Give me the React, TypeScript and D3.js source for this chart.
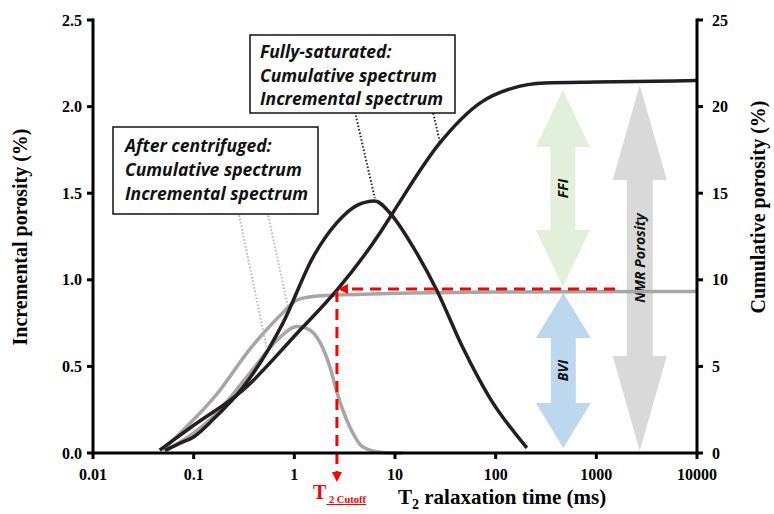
import React from "react";
import * as d3 from "d3";

// T2 spectra (T2 in ms). Incremental values on the left axis (%), cumulative on the right axis (%).
const fsIncT2 = [0.052, 0.075, 0.098, 0.16, 0.31, 0.77, 1.53, 2.65, 4.19, 6.3, 8.9, 15.1, 26, 47, 87, 204];
const fsIncVal = [0.015, 0.06, 0.09, 0.2, 0.38, 0.75, 1.13, 1.33, 1.43, 1.455, 1.386, 1.19, 0.94, 0.61, 0.32, 0.03];

const fsCumT2 = [0.046, 0.1, 0.31, 1.06, 2.71, 7.08, 9.5, 27.9, 69.7, 148, 308, 1000, 10000];
const fsCumVal = [0.17, 1.6, 3.64, 6.9, 9.47, 12.7, 13.86, 17.9, 20.2, 21.07, 21.36, 21.42, 21.5];

const acIncT2 = [0.054, 0.17, 0.36, 0.67, 1.06, 1.25, 1.67, 2.25, 2.65, 3.56, 4.8, 7.6, 12];
const acIncVal = [0.017, 0.23, 0.46, 0.65, 0.73, 0.725, 0.67, 0.5, 0.35, 0.15, 0.035, 0.003, 0];

const acCumT2 = [0.0495, 0.078, 0.17, 0.362, 0.77, 1.06, 1.6, 2.65, 14.1, 100, 10000];
const acCumVal = [0.17, 1.3, 3.4, 6.0, 8.1, 8.83, 9.05, 9.12, 9.24, 9.3, 9.32];

// T2 cutoff and the cumulative level it marks
const T2_CUTOFF = 2.65;
const CUTOFF_LEVEL = 9.47;

// Axis ticks
const xTicks = [0.01, 0.1, 1, 10, 100, 1000, 10000];
const xTickLabels = ["0.01", "0.1", "1", "10", "100", "1000", "10000"];
const leftTicks = [0, 0.5, 1.0, 1.5, 2.0, 2.5];
const leftTickLabels = ["0.0", "0.5", "1.0", "1.5", "2.0", "2.5"];
const rightTicks = [0, 5, 10, 15, 20, 25];
const rightTickLabels = ["0", "5", "10", "15", "20", "25"];

// Porosity bands (T2 position, cumulative range)
const bandNames = ["FFI", "BVI", "NMR Porosity"];
const bandT2 = [465, 470, 2700];
const bandTop = [20.96, 9.24, 21.25];
const bandBottom = [9.58, 0.29, 0.12];

const W = 774;
const H = 514;
const M = { left: 93, right: 697, top: 20, bottom: 453 };

const x = d3.scaleLog().domain([0.01, 10000]).range([M.left, M.right]);
const yL = d3.scaleLinear().domain([0, 2.5]).range([M.bottom, M.top]);
const yR = d3.scaleLinear().domain([0, 25]).range([M.bottom, M.top]);

type P = [number, number];
const zip = (a: number[], b: number[]): P[] => a.map((v, i) => [v, b[i]]);

const lineL = d3.line<P>().x((d) => x(d[0])).y((d) => yL(d[1])).curve(d3.curveMonotoneX);
const lineR = d3.line<P>().x((d) => x(d[0])).y((d) => yR(d[1])).curve(d3.curveMonotoneX);

const serif = "'Liberation Serif', 'Times New Roman', serif";
const sans = "'Open Sans', 'Noto Sans', sans-serif";
const BLACK = "#231f20";
const GRAY = "#a6a6a6";
const RED = "#ff0000";

function doubleArrow(cx: number, y0: number, y1: number, headW: number, shaftW: number, headL: number) {
  const hw = headW / 2;
  const sw = shaftW / 2;
  const pts: P[] = [
    [cx, y0],
    [cx + hw, y0 + headL],
    [cx + sw, y0 + headL],
    [cx + sw, y1 - headL],
    [cx + hw, y1 - headL],
    [cx, y1],
    [cx - hw, y1 - headL],
    [cx - sw, y1 - headL],
    [cx - sw, y0 + headL],
    [cx - hw, y0 + headL],
  ];
  return "M" + pts.map((p) => p.join(",")).join("L") + "Z";
}

const bandStyle = [
  { fill: "#e2efda", headL: 57, headW: 54, shaftW: 25 },
  { fill: "#bdd7ee", headL: 45, headW: 55, shaftW: 25 },
  { fill: "#d9d9d9", headL: 95, headW: 54, shaftW: 26 },
];

export default function App() {
  const cutX = x(T2_CUTOFF);
  const cutY = yR(CUTOFF_LEVEL);

  return (
    <svg width={W} height={H} style={{ position: "absolute", left: 0, top: 0, background: "#fff" }}>
      {/* porosity bands */}
      {bandNames.map((name, i) => {
        const s = bandStyle[i];
        const cx = x(bandT2[i]);
        const y0 = yR(bandTop[i]);
        const y1 = yR(bandBottom[i]);
        const my = i === 2 ? (y0 + y1) / 2 - 10 : (y0 + y1) / 2;
        return (
          <g key={name}>
            <path d={doubleArrow(cx, y0, y1, s.headW, s.shaftW, s.headL)} fill={s.fill} />
            <text
              transform={`translate(${cx + 5},${my}) rotate(-90)`}
              textAnchor="middle"
              fontFamily={sans}
              fontWeight="bold"
              fontStyle="italic"
              fontSize={14}
              fill="#111"
            >
              {name}
            </text>
          </g>
        );
      })}

      {/* after-centrifuged spectra */}
      <path d={lineR(zip(acCumT2, acCumVal)) || ""} fill="none" stroke={GRAY} strokeWidth={3.5} />
      <path d={lineL(zip(acIncT2, acIncVal)) || ""} fill="none" stroke={GRAY} strokeWidth={3.5} />

      {/* fully-saturated spectra */}
      <path d={lineR(zip(fsCumT2, fsCumVal)) || ""} fill="none" stroke={BLACK} strokeWidth={3.5} />
      <path d={lineL(zip(fsIncT2, fsIncVal)) || ""} fill="none" stroke={BLACK} strokeWidth={3.5} />

      {/* T2 cutoff guides */}
      <line x1={615} y1={cutY} x2={cutX + 9} y2={cutY} stroke={RED} strokeWidth={3} strokeDasharray="11,7" />
      <path d={`M${cutX + 1},${cutY}L${cutX + 11},${cutY - 5}L${cutX + 11},${cutY + 5}Z`} fill={RED} />
      <line x1={cutX} y1={cutY + 2} x2={cutX} y2={472} stroke={RED} strokeWidth={3} strokeDasharray="11,7" />
      <path d={`M${cutX},${482}L${cutX - 5},${472}L${cutX + 5},${472}Z`} fill={RED} />

      {/* leader lines */}
      <line x1={355} y1={112} x2={x(6.3)} y2={yL(1.455) - 3} stroke="#222" strokeWidth={2} strokeDasharray="1.5,2" />
      <line x1={427} y1={86} x2={x(27.9)} y2={yR(17.9) - 1} stroke="#222" strokeWidth={2} strokeDasharray="1.5,2" />
      <line x1={237} y1={205} x2={x(0.535)} y2={yL(0.6)} stroke="#b8b8b8" strokeWidth={2} strokeDasharray="1.5,2" />
      <line x1={260} y1={178} x2={x(0.86)} y2={yR(8.5)} stroke="#b8b8b8" strokeWidth={2} strokeDasharray="1.5,2" />

      {/* legend boxes */}
      <g fontFamily={sans} fontWeight="bold" fontStyle="italic" fontSize={17.5} fill="#111">
        <rect x={250} y={35} width={205} height={78} fill="#fff" stroke="#111" strokeWidth={1.5} />
        <text x={260} y={58}>Fully-saturated:</text>
        <text x={260} y={82}>Cumulative spectrum</text>
        <text x={260} y={105}>Incremental spectrum</text>

        <rect x={113} y={127} width={205} height={87} fill="#fff" stroke="#111" strokeWidth={1.5} />
        <text x={125} y={152}>After centrifuged:</text>
        <text x={125} y={176}>Cumulative spectrum</text>
        <text x={125} y={200}>Incremental spectrum</text>
      </g>

      {/* axes */}
      <g stroke="#000" strokeWidth={3} fill="none">
        <line x1={M.left} y1={M.bottom} x2={M.right} y2={M.bottom} />
        <line x1={M.left} y1={M.top - 1.5} x2={M.left} y2={M.bottom + 1.5} />
        <line x1={M.right} y1={M.top - 1.5} x2={M.right} y2={M.bottom + 1.5} />
        {xTicks.map((t) => (
          <line key={"xt" + t} x1={x(t)} y1={M.bottom} x2={x(t)} y2={M.bottom + 6} />
        ))}
        {leftTicks.map((t) => (
          <line key={"lt" + t} x1={M.left - 6} y1={yL(t)} x2={M.left} y2={yL(t)} />
        ))}
        {rightTicks.map((t) => (
          <line key={"rt" + t} x1={M.right} y1={yR(t)} x2={M.right + 6} y2={yR(t)} />
        ))}
      </g>

      <g fontFamily={serif} fontWeight="bold" fontSize={16} fill="#000">
        {xTicks.map((t, i) => (
          <text key={"xl" + t} x={x(t)} y={480} textAnchor="middle">
            {xTickLabels[i]}
          </text>
        ))}
        {leftTicks.map((t, i) => (
          <text key={"ll" + t} x={82} y={yL(t) + 5.5} textAnchor="end">
            {leftTickLabels[i]}
          </text>
        ))}
        {rightTicks.map((t, i) => (
          <text key={"rl" + t} x={712} y={yR(t) + 5.5} textAnchor="start">
            {rightTickLabels[i]}
          </text>
        ))}
      </g>

      {/* axis titles */}
      <g fontFamily={serif} fontWeight="bold" fill="#000">
        <text transform="translate(27,237) rotate(-90)" textAnchor="middle" fontSize={20}>
          Incremental porosity (%)
        </text>
        <text transform="translate(765,207) rotate(-90)" textAnchor="middle" fontSize={20}>
          Cumulative porosity (%)
        </text>
        <text x={398} y={504} fontSize={21}>
          T<tspan dy={5} fontSize={14}>2</tspan>
          <tspan dy={-5}> ralaxation time (ms)</tspan>
        </text>
        <text x={313} y={499} fontSize={20} fill={RED}>
          T
          <tspan dy={4} fontSize={10.5} textDecoration="underline">
            {" 2 Cutoff"}
          </tspan>
        </text>
      </g>
    </svg>
  );
}
